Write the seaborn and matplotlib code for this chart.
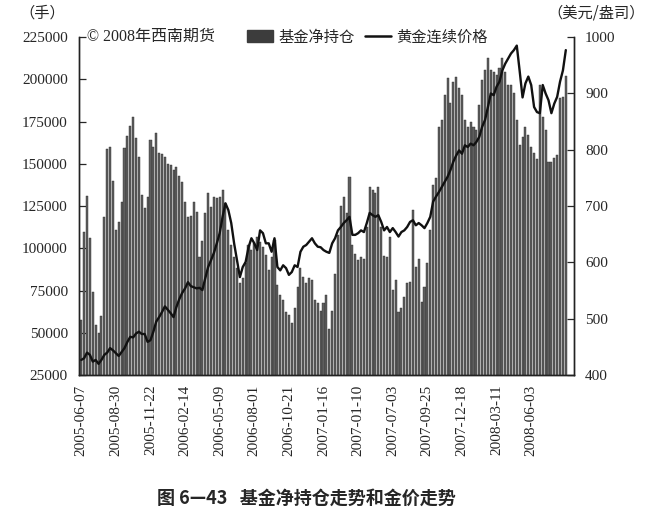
import numpy as np
import pandas as pd
import matplotlib
matplotlib.use("Agg")
import matplotlib.pyplot as plt
from matplotlib.patches import Patch
from matplotlib.lines import Line2D
import seaborn as sns

# ---- data ----
net_positions = [
    57500, 109800, 131000, 106000, 74300, 54600, 49800, 60000, 118700, 158700,
    160000, 140000, 110800, 115700, 127500, 159300, 166400, 172300, 177800, 165400,
    154000, 131500, 123800, 130500, 164000, 160000, 168200, 156500, 155800, 154000,
    150000, 149300, 146300, 148200, 142900, 139400, 127500, 118700, 119000, 127500,
    121600, 95000, 104500, 121000, 132700, 124600, 130500, 129700, 130500, 134500,
    126800, 110800, 101900, 95000, 88300, 79400, 82400, 91300, 101900, 99000,
    103100, 106700, 103700, 100700, 96000, 87100, 95000, 104900, 78300, 72300,
    69400, 62400, 60500, 55800, 64600, 77200, 88300, 83200, 79400, 82400,
    81200, 69400, 67600, 63000, 67800, 72300, 52200, 63000, 84800, 107800,
    125000, 130500, 121000, 142200, 101900, 96600, 93000, 95000, 94000, 112600,
    136300, 134500, 132700, 136300, 112600, 95400, 95000, 106700, 75300, 81200,
    62400, 64600, 71200, 79400, 80200, 122700, 89000, 94000, 68400, 77200,
    91300, 110800, 137400, 141600, 171800, 175900, 190700, 200700, 186000, 198400,
    201300, 195000, 190700, 175900, 171800, 174900, 171800, 170000, 184800, 199500,
    205500, 212600, 205500, 204500, 202500, 206500, 212600, 204500, 196600, 196600,
    191700, 175900, 161100, 166000, 171800, 167000, 160000, 156200, 152800, 196600,
    178000, 170000, 151300, 151300, 153200, 155000, 188700, 189700, 202000,
]
gold_price = [
    427, 430, 440, 436, 424, 427, 420, 427, 436, 440,
    448, 444, 439, 434, 441, 448, 459, 468, 467, 474,
    477, 473, 473, 459, 462, 477, 495, 503, 512, 522,
    516, 510, 503, 521, 535, 546, 554, 565, 558, 556,
    554, 555, 551, 572, 592, 604, 617, 634, 652, 681,
    705, 693, 670, 634, 604, 574, 592, 601, 627, 643,
    634, 622, 657, 652, 634, 634, 619, 643, 592, 586,
    595, 590, 578, 583, 595, 592, 619, 628, 631, 637,
    643, 634, 628, 627, 622, 619, 617, 634, 643, 657,
    663, 670, 675, 681, 649, 649, 652, 657, 654, 670,
    688, 684, 681, 684, 672, 657, 663, 654, 661, 654,
    646, 654, 657, 663, 672, 675, 666, 670, 666, 661,
    670, 681, 708, 717, 725, 734, 743, 752, 764, 779,
    790, 799, 793, 808, 805, 811, 808, 814, 823, 841,
    853, 876, 900, 897, 912, 921, 941, 953, 962, 971,
    977, 985, 940, 893, 918, 930, 915, 876, 867, 865,
    915, 900, 888, 865, 882, 894, 921, 941, 977,
]
tick_labels = [
    "2005-06-07", "2005-08-30", "2005-11-22", "2006-02-14", "2006-05-09",
    "2006-08-01", "2006-10-21", "2007-01-16", "2007-01-10", "2007-07-03",
    "2007-09-25", "2007-12-18", "2008-03-11", "2008-06-03",
]
left_ticks = [25000, 50000, 75000, 100000, 125000, 150000, 175000, 200000, 225000]
right_ticks = [400, 500, 600, 700, 800, 900, 1000]

n = len(net_positions)
df = pd.DataFrame({"week": np.arange(n), "net": net_positions, "gold": gold_price[:n]})

sns.set_style("ticks")
plt.rcParams["font.family"] = ["Liberation Serif", "Noto Sans CJK SC", "DejaVu Sans"]
plt.rcParams["axes.unicode_minus"] = False

fig = plt.figure(figsize=(6.47, 5.16), dpi=100)
ax = fig.add_axes([0.122, 0.273, 0.765, 0.655])

sns.barplot(data=df, x="week", y="net", ax=ax, color="#5e5e5e", saturation=1,
            width=0.72, errorbar=None, edgecolor="#2e2e2e", linewidth=0.3)
ax.set_xlim(-0.8, n + 1.8)
ax.set_ylim(25000, 225000)
ax.set_yticks(left_ticks)
ax.set_yticklabels([str(v) for v in left_ticks], fontsize=11)
ax.set_xticks(np.arange(0, 12 * len(tick_labels), 12))
ax.set_xticklabels(tick_labels, rotation=90, fontsize=11)
ax.tick_params(axis="x", length=0, pad=7)
ax.tick_params(axis="y", direction="in", length=5, width=0.9, pad=8)
ax.set_xlabel("")
ax.set_ylabel("")

ax2 = ax.twinx()
sns.lineplot(data=df, x="week", y="gold", ax=ax2, color="#111111", linewidth=1.7)
ax2.set_ylim(400, 1000)
ax2.set_yticks(right_ticks)
ax2.set_yticklabels([str(v) for v in right_ticks], fontsize=11)
ax2.tick_params(axis="y", direction="in", length=5, width=0.9, pad=8)
ax2.set_ylabel("")
ax2.set_xlim(-0.8, n + 1.8)

for a in (ax, ax2):
    a.spines["top"].set_visible(False)
    for s in ("left", "right", "bottom"):
        a.spines[s].set_linewidth(1.0)
        a.spines[s].set_color("#222222")

fig.text(0.030, 0.975, "（手）", fontsize=11, va="center", ha="left",
         family=["Noto Sans CJK SC"])
fig.text(0.997, 0.975, "（美元/盎司）", fontsize=11, va="center", ha="right",
         family=["Noto Sans CJK SC"])
fig.text(0.134, 0.928, "© 2008年西南期货", fontsize=11.5, va="center", ha="left")

handles = [Patch(facecolor="#3c3c3c", edgecolor="#3c3c3c"),
           Line2D([0], [0], color="#111111", linewidth=1.8)]
fig.legend(handles, ["基金净持仓", "黄金连续价格"], loc="center left",
           bbox_to_anchor=(0.36, 0.928), ncol=2, frameon=False,
           handlelength=1.7, handleheight=0.8, columnspacing=0.7, handletextpad=0.35,
           prop={"family": ["Noto Sans CJK SC"], "size": 11})

fig.text(0.473, 0.035, "图 6—43   基金净持仓走势和金价走势", fontsize=13,
         fontweight="bold", ha="center", va="center", family=["Noto Sans CJK SC"])

fig.savefig("out.png", dpi=100, facecolor="white")
